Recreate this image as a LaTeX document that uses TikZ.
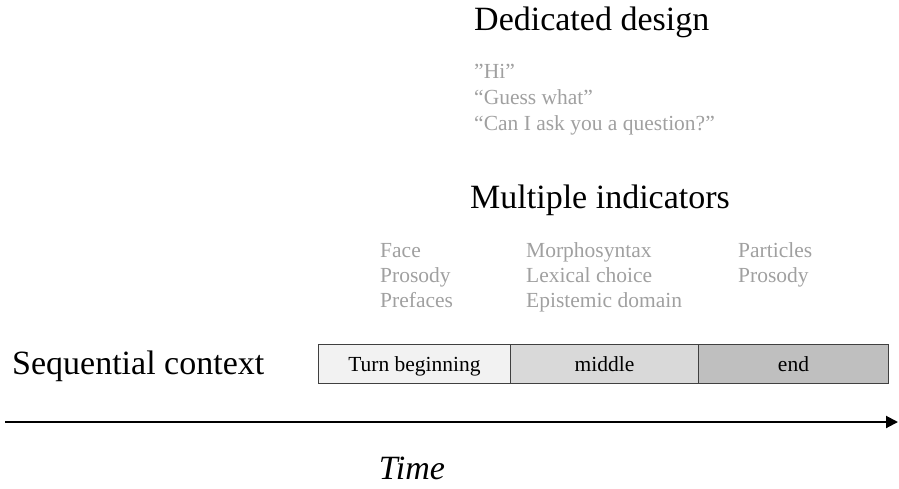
\documentclass[tikz,border=0pt]{standalone}
\usepackage{fontspec}
\setmainfont{Liberation Serif}
\usetikzlibrary{arrows.meta}
\definecolor{bordercol}{HTML}{404040}
\definecolor{graytext}{HTML}{A0A0A0}
\definecolor{cbeg}{HTML}{F2F2F2}
\definecolor{cmid}{HTML}{D9D9D9}
\definecolor{cend}{HTML}{BFBFBF}
\tikzset{
  title/.style={font=\fontsize{34}{40}\selectfont, anchor=base west, inner sep=0pt},
  gitem/.style={font=\fontsize{21.5}{25}\selectfont, text=graytext, anchor=base west, inner sep=0pt},
  seg/.style={draw=bordercol, line width=1pt, minimum height=39pt, inner sep=0pt,
    text height=18pt, text depth=3pt, font=\fontsize{21.5}{24}\selectfont, anchor=north west},
}
\begin{document}
\begin{tikzpicture}[x=1pt,y=-1pt]
\useasboundingbox (0,0) rectangle (899,488);
\node[title] (dd) at (474,30) {Dedicated design};
\node[gitem] (d1) at (474,78) {"Hi"};
\node[gitem] (d2) at (474,104) {“Guess what”};
\node[gitem] (d3) at (474,130) {“Can I ask you a question?”};
\node[title] (mi) at (470,208) {Multiple indicators};
\node[gitem] (f1) at (380,257) {Face};
\node[gitem] (f2) at (380,282) {Prosody};
\node[gitem] (f3) at (380,307) {Prefaces};
\node[gitem] (m1) at (526,257) {Morphosyntax};
\node[gitem] (m2) at (526,282) {Lexical choice};
\node[gitem] (m3) at (526,307) {Epistemic domain};
\node[gitem] (p1) at (738,257) {Particles};
\node[gitem] (p2) at (738,282) {Prosody};
\node[title] (sc) at (12,374) {Sequential context};
\node[seg, fill=cbeg, minimum width=192pt] (b1) at (318,344) {Turn beginning};
\node[seg, fill=cmid, minimum width=188pt] (b2) at (510,344) {middle};
\node[seg, fill=cend, minimum width=190pt] (b3) at (698,344) {end};
\coordinate (a0) at (5,422);
\coordinate (a1) at (898,422);
\draw[line width=2pt, -{Triangle[length=12pt,width=12pt]}] (a0) -- (a1);
\node[font=\fontsize{34}{40}\itshape\selectfont, inner sep=0pt, anchor=base] (t) at (412,479) {Time};
\end{tikzpicture}
\end{document}
